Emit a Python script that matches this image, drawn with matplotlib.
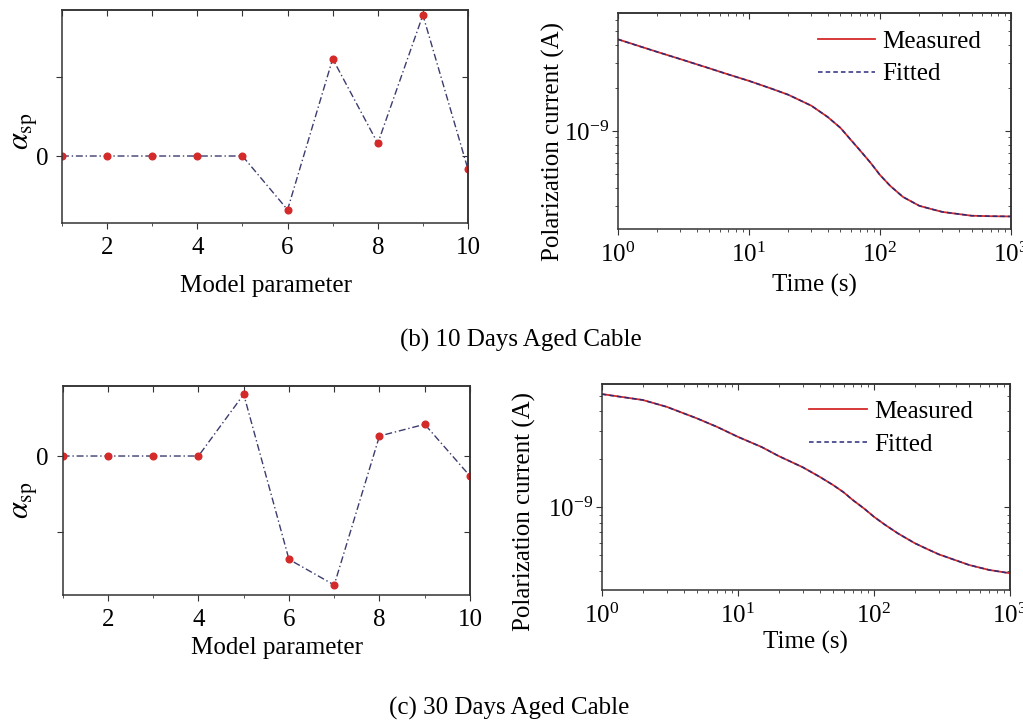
import matplotlib
matplotlib.use("Agg")
import matplotlib.pyplot as plt
from matplotlib.ticker import NullFormatter, MultipleLocator

plt.rcParams['font.family'] = ['Liberation Serif', 'DejaVu Serif']
plt.rcParams['mathtext.fontset'] = 'stix'
plt.rcParams['axes.linewidth'] = 1.1
plt.rcParams['axes.edgecolor'] = '#333333'

# model parameter weights
params = [1, 2, 3, 4, 5, 6, 7, 8, 9, 10]
alpha_10d = [0, 0, 0, 0, 0, -0.68, 1.23, 0.16, 1.785, -0.17]
alpha_30d = [0, 0, 0, 0, 0.815, -1.365, -1.704, 0.264, 0.419, -0.264]

# polarization current, 10 days aged cable
time_10d = [1, 2, 3, 5, 7, 10, 15, 20, 30, 40, 50, 60, 70, 85, 100, 120,
            150, 200, 250, 300, 500, 700, 1000]
meas_10d = [4.38e-9, 3.57e-9, 3.18e-9, 2.74e-9, 2.48e-9, 2.24e-9, 1.97e-9,
            1.79e-9, 1.50e-9, 1.25e-9, 1.05e-9, 8.65e-10, 7.36e-10, 5.97e-10,
            4.92e-10, 4.12e-10, 3.45e-10, 2.99e-10, 2.83e-10, 2.71e-10,
            2.55e-10, 2.53e-10, 2.52e-10]
fit_10d = [4.37e-9, 3.57e-9, 3.18e-9, 2.74e-9, 2.48e-9, 2.24e-9, 1.97e-9,
           1.79e-9, 1.50e-9, 1.25e-9, 1.05e-9, 8.66e-10, 7.36e-10, 5.97e-10,
           4.92e-10, 4.12e-10, 3.45e-10, 2.99e-10, 2.83e-10, 2.71e-10,
           2.55e-10, 2.53e-10, 2.52e-10]

# polarization current, 30 days aged cable
time_30d = [1, 2, 3, 5, 7, 10, 15, 20, 30, 40, 50, 60, 70, 85, 100, 120,
            150, 200, 250, 300, 500, 700, 1000]
meas_30d = [5.11e-9, 4.69e-9, 4.25e-9, 3.60e-9, 3.19e-9, 2.76e-9, 2.38e-9,
            2.09e-9, 1.78e-9, 1.55e-9, 1.38e-9, 1.24e-9, 1.11e-9, 9.80e-10,
            8.73e-10, 7.80e-10, 6.87e-10, 5.96e-10, 5.45e-10, 5.08e-10,
            4.36e-10, 4.06e-10, 3.87e-10]
fit_30d = [5.10e-9, 4.69e-9, 4.25e-9, 3.60e-9, 3.19e-9, 2.76e-9, 2.38e-9,
           2.09e-9, 1.78e-9, 1.55e-9, 1.38e-9, 1.24e-9, 1.11e-9, 9.80e-10,
           8.73e-10, 7.80e-10, 6.87e-10, 5.96e-10, 5.45e-10, 5.08e-10,
           4.36e-10, 4.06e-10, 3.87e-10]

FS = 18
RED = '#d42a2a'
LINE = '#3c3c6e'

fig = plt.figure(figsize=(10.23, 7.25), dpi=100)


def inner_ticks(ax, xticks=None, yticks=None):
    # ticks pointing inward on the top and right frame
    top = ax.secondary_xaxis('top')
    right = ax.secondary_yaxis('right')
    if xticks is not None:
        top.set_xticks(xticks)
    if yticks is not None:
        right.set_yticks(yticks)
    top.tick_params(which='both', direction='in', labeltop=False, color='#333333')
    right.tick_params(which='both', direction='in', labelright=False, color='#333333')
    top.tick_params(which='major', length=4)
    right.tick_params(which='major', length=4)
    top.tick_params(which='minor', length=2.5)
    right.tick_params(which='minor', length=2.5)


def alpha_panel(rect, values, ylim, yticks, ylabels, xlab_y, xlab_x, ylab_y):
    ax = fig.add_axes(rect)
    ax.plot(params, values, linestyle='-.', color=LINE, linewidth=1.0, dashes=(5, 2, 1, 2))
    ax.plot(params, values, linestyle='none', marker='o', markersize=4.8,
            color=RED, markeredgecolor=RED)
    ax.set_xlim(1, 10)
    ax.set_ylim(*ylim)
    ax.set_xticks([2, 4, 6, 8, 10])
    ax.xaxis.set_minor_locator(MultipleLocator(1))
    ax.set_yticks(yticks)
    ax.set_yticklabels(ylabels)
    ax.tick_params(which='both', direction='out', labelsize=FS, pad=6, color='#333333')
    ax.tick_params(which='major', length=4)
    ax.tick_params(which='minor', length=2.5)
    inner_ticks(ax, xticks=list(range(1, 11)), yticks=yticks)
    ax.set_xlabel('Model parameter', fontsize=FS)
    ax.xaxis.set_label_coords(xlab_x, xlab_y)
    ax.set_ylabel(r'$\alpha_{\mathrm{sp}}$', fontsize=FS + 4)
    ax.yaxis.set_label_coords(-0.055, ylab_y)
    return ax


def current_panel(rect, t, meas, fit, ylim, xlab_y, ylab_x, ylab_y, leg_y):
    ax = fig.add_axes(rect)
    ax.plot(t, meas, color=RED, linewidth=1.3, label='Measured')
    ax.plot(t, fit, color='#2b2b7a', linewidth=1.1, linestyle='--',
            dashes=(3, 2), label='Fitted')
    ax.set_xscale('log')
    ax.set_yscale('log')
    ax.set_xlim(1, 1000)
    ax.set_ylim(*ylim)
    ax.yaxis.set_minor_formatter(NullFormatter())
    ax.xaxis.set_minor_formatter(NullFormatter())
    ax.tick_params(which='both', direction='out', labelsize=FS, pad=6, color='#333333')
    ax.tick_params(axis='y', which='both', pad=2)
    ax.tick_params(which='major', length=4)
    ax.tick_params(which='minor', length=2.5)
    inner_ticks(ax)
    ax.set_xlabel('Time (s)', fontsize=FS)
    ax.xaxis.set_label_coords(0.5, xlab_y)
    ax.set_ylabel('Polarization current (A)', fontsize=FS)
    ax.yaxis.set_label_coords(ylab_x, ylab_y)
    ax.legend(loc='upper left', bbox_to_anchor=(0.508, leg_y), frameon=False,
              fontsize=FS, handlelength=2.3, handletextpad=0.3,
              labelspacing=0.4, borderpad=0, borderaxespad=0)
    return ax


# (b) 10 days aged cable
alpha_panel([0.0606, 0.6924, 0.3969, 0.2938], alpha_10d, (-0.848, 1.848),
            [0, 1], ['0', ''], -0.245, 0.502, 0.43)
current_panel([0.6038, 0.6846, 0.3845, 0.2971], time_10d, meas_10d, fit_10d,
              (2.07e-10, 6.65e-9), -0.21, -0.135, 0.405, 0.92)
fig.text(0.509, 1 - 340 / 725, '(b) 10 Days Aged Cable', ha='center', va='center',
         fontsize=18)

# (c) 30 days aged cable
alpha_panel([0.0613, 0.1793, 0.3981, 0.2883], alpha_30d, (-1.836, 0.925),
            [-1, 0], ['', '0'], -0.2, 0.526, 0.455)
current_panel([0.5882, 0.1862, 0.3991, 0.2841], time_30d, meas_30d, fit_30d,
              (3.04e-10, 5.9e-9), -0.2, -0.16, 0.38, 0.92)
fig.text(0.498, 1 - 708 / 725, '(c) 30 Days Aged Cable', ha='center', va='center',
         fontsize=18)

fig.savefig('out.png', dpi=100)
